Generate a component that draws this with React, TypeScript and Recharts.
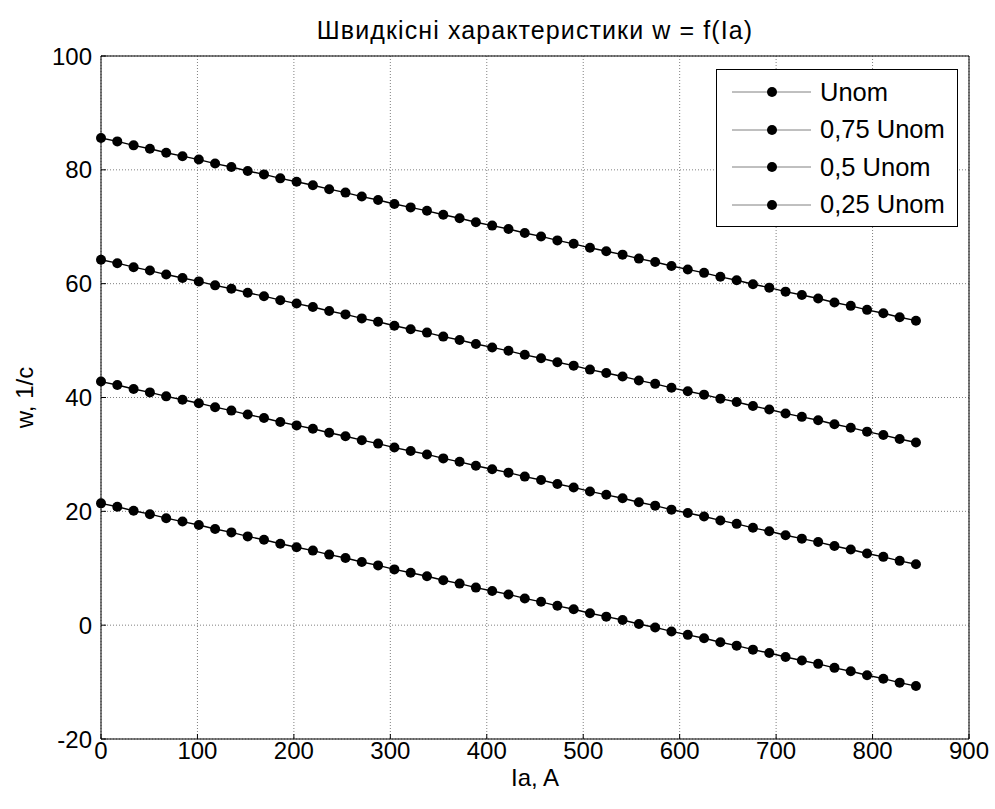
import { CartesianGrid, Label, Legend, Line, LineChart, XAxis, YAxis } from "recharts";

const FONT = '"Liberation Sans", Arial, Helvetica, sans-serif';

const ia = [
  0, 16.9, 33.8, 50.7, 67.6, 84.5, 101.4, 118.3, 135.2, 152.1, 169, 185.9, 202.8,
  219.7, 236.6, 253.5, 270.4, 287.3, 304.2, 321.1, 338, 354.9, 371.8, 388.7, 405.6,
  422.5, 439.4, 456.3, 473.2, 490.1, 507, 523.9, 540.8, 557.7, 574.6, 591.5, 608.4,
  625.3, 642.2, 659.1, 676, 692.9, 709.8, 726.7, 743.6, 760.5, 777.4, 794.3, 811.2,
  828.1, 845,
];

const uNom = [
  85.6, 85.0, 84.3, 83.7, 83.0, 82.4, 81.8, 81.1, 80.5, 79.8, 79.2, 78.5, 77.9, 77.3,
  76.6, 76.0, 75.3, 74.7, 74.0, 73.4, 72.8, 72.1, 71.5, 70.8, 70.2, 69.6, 68.9, 68.3,
  67.6, 67.0, 66.3, 65.7, 65.1, 64.4, 63.8, 63.1, 62.5, 61.9, 61.2, 60.6, 59.9, 59.3,
  58.6, 58.0, 57.4, 56.7, 56.1, 55.4, 54.8, 54.1, 53.5,
];

const u075 = [
  64.2, 63.6, 62.9, 62.3, 61.6, 61.0, 60.4, 59.7, 59.1, 58.4, 57.8, 57.1, 56.5, 55.9,
  55.2, 54.6, 53.9, 53.3, 52.6, 52.0, 51.4, 50.7, 50.1, 49.4, 48.8, 48.2, 47.5, 46.9,
  46.2, 45.6, 44.9, 44.3, 43.7, 43.0, 42.4, 41.7, 41.1, 40.5, 39.8, 39.2, 38.5, 37.9,
  37.2, 36.6, 36.0, 35.3, 34.7, 34.0, 33.4, 32.7, 32.1,
];

const u05 = [
  42.8, 42.2, 41.5, 40.9, 40.2, 39.6, 39.0, 38.3, 37.7, 37.0, 36.4, 35.7, 35.1, 34.5,
  33.8, 33.2, 32.5, 31.9, 31.2, 30.6, 30.0, 29.3, 28.7, 28.0, 27.4, 26.8, 26.1, 25.5,
  24.8, 24.2, 23.5, 22.9, 22.3, 21.6, 21.0, 20.3, 19.7, 19.1, 18.4, 17.8, 17.1, 16.5,
  15.8, 15.2, 14.6, 13.9, 13.3, 12.6, 12.0, 11.3, 10.7,
];

const u025 = [
  21.4, 20.8, 20.1, 19.5, 18.8, 18.2, 17.6, 16.9, 16.3, 15.6, 15.0, 14.3, 13.7, 13.1,
  12.4, 11.8, 11.1, 10.5, 9.8, 9.2, 8.6, 7.9, 7.3, 6.6, 6.0, 5.4, 4.7, 4.1, 3.4, 2.8,
  2.1, 1.5, 0.9, 0.2, -0.4, -1.1, -1.7, -2.3, -3.0, -3.6, -4.3, -4.9, -5.6, -6.2, -6.8,
  -7.5, -8.1, -8.8, -9.4, -10.1, -10.7,
];

const seriesNames = ["Unom", "0,75 Unom", "0,5 Unom", "0,25 Unom"];
const xTicks = [0, 100, 200, 300, 400, 500, 600, 700, 800, 900];
const yTicks = [-20, 0, 20, 40, 60, 80, 100];

const data = ia.map((x, i) => ({
  ia: x,
  s0: uNom[i],
  s1: u075[i],
  s2: u05[i],
  s3: u025[i],
}));

const tickStyle = { fill: "#000", fontSize: 24, fontFamily: FONT };

const LegendBox = () => (
  <div
    style={{
      position: "relative",
      width: 242,
      height: 158,
      border: "1px solid #000",
      boxSizing: "border-box",
      background: "#fff",
      fontFamily: FONT,
      fontSize: 25.5,
      color: "#000",
    }}
  >
    {seriesNames.map((name, i) => (
      <div
        key={name}
        style={{
          position: "absolute",
          left: 0,
          top: 22 + i * 37.5 - 19,
          height: 38,
          display: "flex",
          alignItems: "center",
          whiteSpace: "nowrap",
        }}
      >
        <svg width={100} height={38}>
          <line x1={15} x2={94} y1={19} y2={19} stroke="#808080" strokeWidth={1} />
          <circle cx={55} cy={19} r={5} fill="#000" />
        </svg>
        <span style={{ marginLeft: 3 }}>{name}</span>
      </div>
    ))}
  </div>
);

export default function App() {
  return (
    <div style={{ position: "absolute", left: 0, top: 0, width: 995, height: 809, background: "#fff" }}>
      <div
        style={{
          position: "absolute",
          left: 0,
          width: 1070,
          top: 16,
          textAlign: "center",
          fontFamily: FONT,
          fontSize: 25,
          letterSpacing: 1.1,
          color: "#000",
          lineHeight: "28px",
        }}
      >
        Швидкісні характеристики w = f(Ia)
      </div>
      <LineChart
        width={995}
        height={809}
        data={data}
        margin={{ top: 55, right: 25, bottom: 0, left: 0 }}
      >
        <CartesianGrid stroke="#808080" strokeDasharray="1 2" />
        <XAxis
          dataKey="ia"
          type="number"
          domain={[0, 900]}
          ticks={xTicks}
          interval={0}
          height={70}
          tickSize={-5}
          tickMargin={8}
          axisLine={{ stroke: "#000" }}
          tickLine={{ stroke: "#000" }}
          tick={tickStyle}
        >
          <Label
            value="Ia, A"
            position="insideBottom"
            offset={23}
            style={{ fill: "#000", fontSize: 24, fontFamily: FONT }}
          />
        </XAxis>
        <XAxis
          xAxisId="top"
          orientation="top"
          type="number"
          domain={[0, 900]}
          ticks={xTicks}
          interval={0}
          height={1}
          tickSize={-5}
          tick={false}
          axisLine={{ stroke: "#000" }}
          tickLine={{ stroke: "#000" }}
        />
        <YAxis
          type="number"
          domain={[-20, 100]}
          ticks={yTicks}
          interval={0}
          width={101}
          tickSize={-5}
          tickMargin={14}
          axisLine={{ stroke: "#000" }}
          tickLine={{ stroke: "#000" }}
          tick={tickStyle}
        >
          <Label
            value="w, 1/c"
            angle={-90}
            position="insideLeft"
            offset={24}
            style={{ fill: "#000", fontSize: 24, fontFamily: FONT, textAnchor: "middle" }}
          />
        </YAxis>
        <YAxis
          yAxisId="right"
          orientation="right"
          type="number"
          domain={[-20, 100]}
          ticks={yTicks}
          interval={0}
          width={1}
          tickSize={-5}
          tick={false}
          axisLine={{ stroke: "#000" }}
          tickLine={{ stroke: "#000" }}
        />
        <Legend
          layout="vertical"
          align="center"
          verticalAlign="middle"
          content={() => <LegendBox />}
          wrapperStyle={{ position: "absolute", left: 716, top: 69, width: 242, height: 158 }}
        />
        {["s0", "s1", "s2", "s3"].map((key, i) => (
          <Line
            key={key}
            dataKey={key}
            name={seriesNames[i]}
            stroke="#000"
            strokeWidth={1.4}
            dot={{ r: 5, fill: "#000", stroke: "#000", strokeWidth: 0 }}
            activeDot={false}
            isAnimationActive={false}
          />
        ))}
      </LineChart>
    </div>
  );
}
